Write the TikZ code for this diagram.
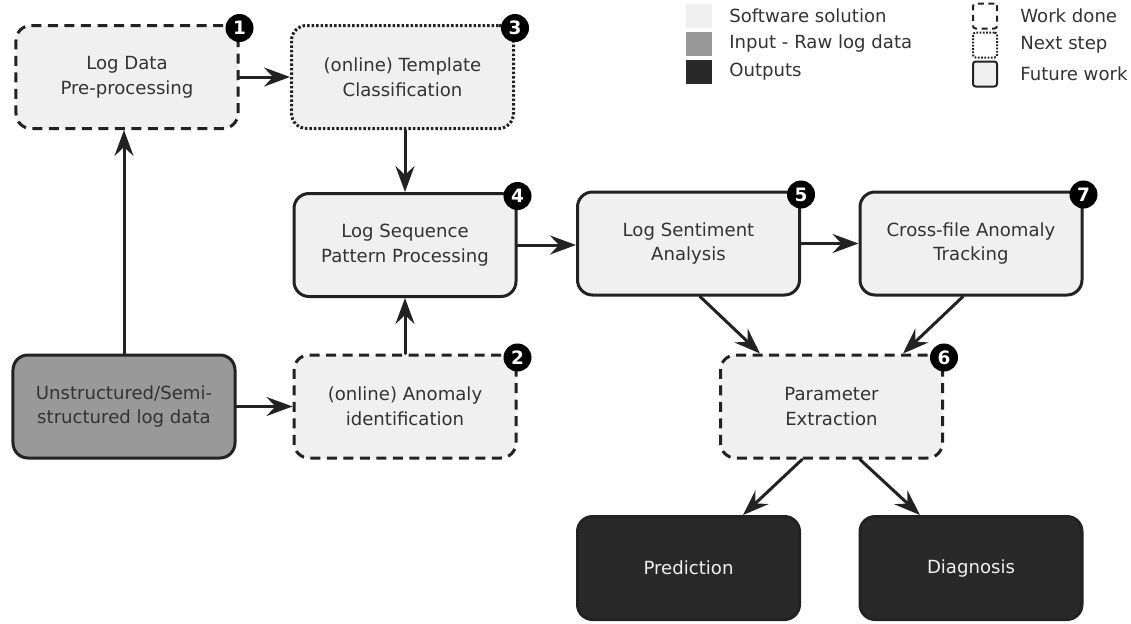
\documentclass[tikz,border=0pt]{standalone}
\usepackage{fontspec}
\setmainfont{DejaVu Sans}
\usetikzlibrary{arrows.meta,calc,positioning}
\definecolor{boxfill}{HTML}{F0F0F0}
\definecolor{boxline}{HTML}{222222}
\definecolor{rawfill}{HTML}{999999}
\definecolor{outfill}{HTML}{292929}
\definecolor{textgray}{HTML}{333333}
\tikzset{
every picture/.style={line cap=round,line join=round},
flow box/.style={
  draw=boxline,
  fill=boxfill,
  rounded corners=0.3cm,
  line width=0.06cm,
  minimum width=4.44cm,
  minimum height=2.06cm,
  align=center,
  inner sep=0pt,
  text=textgray,
  font=\fontsize{10.3}{14}\selectfont
},
done box/.style={flow box, line cap=butt, dash pattern=on 0.2cm off 0.13cm},
next box/.style={flow box, line cap=butt, dash pattern=on 0.05cm off 0.04cm},
raw box/.style={flow box, fill=rawfill},
out box/.style={flow box, fill=outfill, text=boxfill},
badge/.style={circle, fill=black, inner sep=0pt, minimum size=0.56cm, text=white, font=\fontsize{10.5}{10.5}\selectfont\bfseries},
fig flow/.style={
  draw=boxline,
  line width=0.06cm,
  -{Stealth[length=0.52cm,width=0.38cm,inset=0.18cm]}
},
key swatch/.style={minimum width=0.52cm, minimum height=0.48cm, inner sep=0pt},
key icon/.style={draw=boxline, fill=boxfill, line width=0.04cm, rounded corners=1.5pt, minimum width=0.48cm, minimum height=0.5cm, inner sep=0pt},
key label/.style={anchor=west, inner sep=0pt, text=textgray, font=\fontsize{10.3}{12}\selectfont}
}
\begin{document}
\begin{tikzpicture}
\useasboundingbox (0,0) rectangle (22.62,-12.46);
% boxes
\node[done box] (prep) at (2.54,-1.54) {Log Data\\Pre-processing};
\node[next box] (templ) at (8.05,-1.54) {(online) Template\\Classification};
\node[flow box] (seq) at (8.1,-4.9) {Log Sequence\\Pattern Processing};
\node[flow box] (sent) at (13.77,-4.87) {Log Sentiment\\Analysis};
\node[flow box] (cross) at (19.42,-4.87) {Cross-file Anomaly\\Tracking};
\node[raw box] (raw) at (2.48,-8.13) {Unstructured/Semi-\\structured log data};
\node[done box] (anom) at (8.1,-8.13) {(online) Anomaly\\identification};
\node[done box] (param) at (16.63,-8.13) {Parameter\\Extraction};
\node[out box] (pred) at (13.77,-11.36) {Prediction};
\node[out box] (diag) at (19.42,-11.36) {Diagnosis};
% step numbers
\node[badge] at ([yshift=-0.08cm]prep.north east) {1};
\node[badge] at ([yshift=-0.08cm]anom.north east) {2};
\node[badge] at ([yshift=-0.08cm]templ.north east) {3};
\node[badge] at ([yshift=-0.08cm]seq.north east) {4};
\node[badge] at ([yshift=-0.08cm]sent.north east) {5};
\node[badge] at ([yshift=-0.08cm]param.north east) {6};
\node[badge] at ([yshift=-0.08cm]cross.north east) {7};
% connectors
\draw[fig flow] (raw.north) -- (raw.north |- prep.south);
\draw[fig flow] (prep) -- (templ);
\draw[fig flow] (seq.north |- templ.south) -- (seq.north);
\draw[fig flow] (raw) -- (anom);
\draw[fig flow] (anom) -- (seq);
\draw[fig flow] (seq.east) -- (seq.east -| sent.west);
\draw[fig flow] (sent) -- (cross);
\coordinate (sentout) at ([xshift=0.23cm]sent.south);
\coordinate (crossout) at ([xshift=-0.16cm]cross.south);
\coordinate (paramin1) at ([xshift=-1.43cm]param.north);
\coordinate (paramin2) at ([xshift=1.43cm]param.north);
\coordinate (paramout1) at ([xshift=-0.59cm]param.south);
\coordinate (paramout2) at ([xshift=0.57cm]param.south);
\coordinate (predin) at ([xshift=1.09cm]pred.north);
\coordinate (diagin) at ([xshift=-1.02cm]diag.north);
\draw[fig flow] (sentout) -- (paramin1);
\draw[fig flow] (crossout) -- (paramin2);
\draw[fig flow] (paramout1) -- (predin);
\draw[fig flow] (paramout2) -- (diagin);
% legend
\node[key swatch, fill=boxfill] (keysoft) at (13.98,-0.32) {};
\node[key swatch, fill=rawfill] (keyraw) at (13.98,-0.88) {};
\node[key swatch, fill=outfill] (keyout) at (13.98,-1.44) {};
\node[key label] at (14.58,-0.32) {Software solution};
\node[key label] at (14.58,-0.88) {Input - Raw log data};
\node[key label] at (14.58,-1.44) {Outputs};
\node[key icon, fill=white, line cap=butt, dash pattern=on 0.12cm off 0.09cm] (keydone) at (19.7,-0.32) {};
\node[key icon, fill=white, line cap=butt, dash pattern=on 0.035cm off 0.03cm] (keynext) at (19.7,-0.9) {};
\node[key icon] (keyfut) at (19.7,-1.48) {};
\node[key label] at (20.4,-0.32) {Work done};
\node[key label] at (20.4,-0.9) {Next step};
\node[key label] at (20.4,-1.48) {Future work};
\end{tikzpicture}
\end{document}
